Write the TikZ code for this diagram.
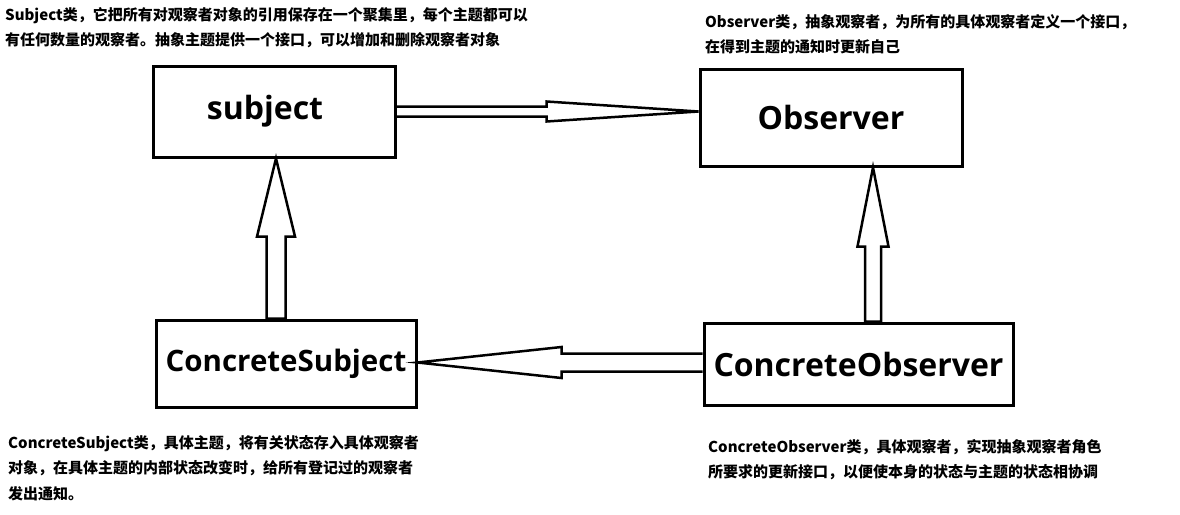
\documentclass[tikz,border=0pt]{standalone}
\usepackage{fontspec}
\setmainfont{Noto Sans CJK SC}
\newfontfamily\boxfont{Open Sans}
\usetikzlibrary{calc}

\tikzset{
    classbox/.style={draw, line width=3pt, inner sep=0pt,
        font=\boxfont\bfseries\fontsize{32}{38}\selectfont},
    note/.style={anchor=north west, inner sep=0pt, align=left,
        font=\bfseries\fontsize{15}{25.5}\selectfont},
    hollow/.style={draw, line width=2.5pt, line join=miter}
}

\begin{document}
\begin{tikzpicture}[x=1pt,y=-1pt]
\useasboundingbox (0,0) rectangle (1180,514);

% classes
\node[classbox, minimum width=242pt, minimum height=91pt] (subj) at (274,111.5)  {subject\hspace*{18pt}};
\node[classbox, minimum width=262pt, minimum height=97pt] (obs)  at (831,117.5)  {Observer};
\node[classbox, minimum width=260pt, minimum height=87pt,
      font=\boxfont\bfseries\fontsize{29.5}{35}\selectfont] (csub) at (286,363.5)  {ConcreteSubject};
\node[classbox, minimum width=309pt, minimum height=82pt] (cobs) at (858.5,364)  {ConcreteObserver};

% subject -> Observer
\coordinate (t1) at (obs.west |- subj.east);
\draw[hollow] ($(subj.east)+(0,-5)$) -- ($(t1)+(-152,-5)$) -- ($(t1)+(-152,-10)$) --
              (t1) --
              ($(t1)+(-152,10)$)  -- ($(t1)+(-152,5)$)  -- ($(subj.east)+(0,5)$);

% ConcreteSubject -> subject
\coordinate (t2) at ($(subj.south)+(2,0)$);
\coordinate (s2) at (t2 |- csub.north);
\draw[hollow] ($(s2)+(-9.5,0)$) -- ($(t2)+(-9.5,78)$) -- ($(t2)+(-19,78)$) --
              (t2) --
              ($(t2)+(19,78)$)    -- ($(t2)+(9.5,78)$)  -- ($(s2)+(9.5,0)$) -- cycle;

% ConcreteObserver -> Observer
\coordinate (t3) at ($(obs.south)+(42,0)$);
\coordinate (s3) at (t3 |- cobs.north);
\draw[hollow] ($(s3)+(-8,0)$) -- ($(t3)+(-8,79)$) -- ($(t3)+(-15.5,79)$) --
              (t3) --
              ($(t3)+(15.5,79)$) -- ($(t3)+(8,79)$) -- ($(s3)+(8,0)$) -- cycle;

% ConcreteObserver -> ConcreteSubject
\coordinate (t4) at ($(csub.east)+(0,-1)$);
\coordinate (s4) at (cobs.west |- t4);
\draw[hollow] ($(s4)+(0,-9)$) -- ($(t4)+(144,-9)$) -- ($(t4)+(144,-15.5)$) --
              (t4) --
              ($(t4)+(144,15.5)$) -- ($(t4)+(144,9)$) -- ($(s4)+(0,9)$);

% notes
\node[note] (nsubj) at (5,7)    {Subject类，它把所有对观察者对象的引用保存在一个聚集里，每个主题都可以\\
                                 有任何数量的观察者。抽象主题提供一个接口，可以增加和删除观察者对象};
\node[note] (nobs)  at (705,14) {Observer类，抽象观察者，为所有的具体观察者定义一个接口，\\
                                 在得到主题的通知时更新自己};
\node[note] (ncsub) at (8,435)  {ConcreteSubject类，具体主题，将有关状态存入具体观察者\\
                                 对象，在具体主题的内部状态改变时，给所有登记过的观察者\\
                                 发出通知。};
\node[note] (ncobs) at (708,439) {ConcreteObserver类，具体观察者，实现抽象观察者角色\\
                                  所要求的更新接口，以便使本身的状态与主题的状态相协调};

\end{tikzpicture}
\end{document}
